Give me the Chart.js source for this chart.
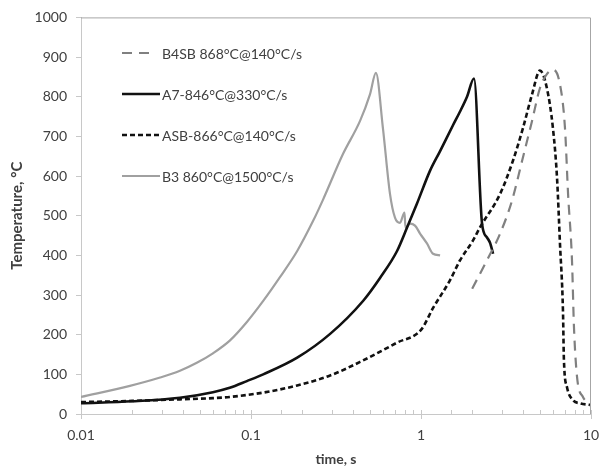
<!DOCTYPE html>
<html>
<head>
<meta charset="utf-8">
<script src="https://cdn.jsdelivr.net/npm/chart.js@4.4.1/dist/chart.umd.min.js"></script>
<style>
  html, body { margin: 0; padding: 0; background: #fff; }
  #wrap { width: 600px; height: 471px; }
</style>
</head>
<body>
<div id="wrap"><canvas id="tempChart" width="600" height="471"></canvas></div>
<script>
// values (time in s, temperature in °C)
const seriesNames = ['B4SB 868°C@140°C/s', 'A7-846°C@330°C/s', 'ASB-866°C@140°C/s', 'B3 860°C@1500°C/s'];

const b4sbTime = [2.0, 2.44, 2.92, 3.43, 3.93, 4.5, 5.01, 5.5, 5.97, 6.57, 7.03, 7.33, 7.73, 7.94, 8.28, 8.97, 9.86];
const b4sbTemp = [316, 387, 455, 538, 638, 739, 822, 857, 868, 831, 721, 555, 387, 219, 93, 43, 27];

const a7Time = [0.01, 0.02, 0.0382, 0.0597, 0.075, 0.0946, 0.118, 0.187, 0.292, 0.456, 0.574, 0.723, 0.828, 0.946, 1.129, 1.295, 1.542, 1.694, 1.865, 2.05, 2.286, 2.445, 2.547, 2.655];
const a7Temp = [27, 32, 41, 55, 66, 83, 100, 142, 202, 285, 343, 411, 470, 530, 613, 663, 728, 762, 800, 846, 480, 445, 432, 404];

const asbTime = [0.01, 0.02, 0.0382, 0.0597, 0.075, 0.118, 0.187, 0.292, 0.456, 0.723, 1.0, 1.18, 1.48, 1.694, 2.02, 2.22, 2.92, 3.47, 3.98, 4.5, 5.01, 5.5, 5.97, 6.31, 6.57, 6.84, 6.93, 7.22, 7.83, 8.61, 9.86];
const asbTemp = [30, 33, 37, 40, 43, 54, 72, 97, 135, 180, 212, 268, 337, 387, 437, 470, 555, 638, 721, 806, 866, 822, 721, 596, 429, 261, 136, 68, 35, 27, 23];

const b3Time = [0.01, 0.0194, 0.0292, 0.0382, 0.048, 0.0597, 0.075, 0.0946, 0.118, 0.148, 0.187, 0.232, 0.265, 0.348, 0.438, 0.501, 0.543, 0.597, 0.657, 0.703, 0.752, 0.800, 0.810, 0.861, 0.922, 0.987, 1.084, 1.177, 1.295];
const b3Temp = [43, 71, 92, 109, 129, 153, 185, 232, 285, 345, 411, 487, 540, 656, 739, 806, 860, 721, 555, 495, 482, 508, 470, 480, 475, 455, 430, 404, 400];

const xTickLabels = ['0.01', '0.1', '1', '10'];
const yTicks = [0, 100, 200, 300, 400, 500, 600, 700, 800, 900, 1000];

const toPoints = (xs, ys) => xs.map((x, i) => ({ x: x, y: ys[i] }));

const FONT = 'Lato, "Liberation Sans", sans-serif';
const TEXT = '#404040';

// plot frame, minor log ticks and the legend inside the plot
const extras = {
    id: 'extras',
    afterDraw(chart) {
        const { ctx, chartArea: a, scales } = chart;
        ctx.save();
        ctx.strokeStyle = '#a6a6a6';
        ctx.lineWidth = 1;
        ctx.beginPath();
        ctx.moveTo(a.left, a.top + 0.5);
        ctx.lineTo(a.right - 0.5, a.top + 0.5);
        ctx.lineTo(a.right - 0.5, a.bottom);
        ctx.stroke();

        ctx.strokeStyle = '#c8c8c8';
        ctx.beginPath();
        scales.x.ticks.forEach(t => {
            const px = Math.round(scales.x.getPixelForValue(t.value)) + 0.5;
            ctx.moveTo(px, a.bottom);
            ctx.lineTo(px, a.bottom - 4);
        });
        ctx.stroke();

        // legend
        const rowY = [53, 94, 135, 176];
        ctx.font = '14px ' + FONT;
        ctx.textBaseline = 'middle';
        ctx.fillStyle = TEXT;
        chart.data.datasets.forEach((ds, i) => {
            const y = rowY[i];
            const longDash = ds.borderDash && ds.borderDash[0] > 8;
            ctx.strokeStyle = ds.borderColor;
            ctx.lineWidth = ds.borderWidth;
            ctx.setLineDash(ds.borderDash || []);
            ctx.beginPath();
            ctx.moveTo(122, y);
            ctx.lineTo(longDash ? 149 : 160, y);
            ctx.stroke();
            ctx.setLineDash([]);
            ctx.fillText(ds.label, 162, y + 1);
        });
        ctx.restore();
    }
};

const ctx = document.getElementById('tempChart').getContext('2d');

new Chart(ctx, {
    type: 'line',
    data: {
        datasets: [{
            label: seriesNames[0],
            data: toPoints(b4sbTime, b4sbTemp),
            borderColor: '#808080',
            borderWidth: 2.2,
            borderDash: [10, 7]
        }, {
            label: seriesNames[1],
            data: toPoints(a7Time, a7Temp),
            borderColor: '#111111',
            borderWidth: 2.6
        }, {
            label: seriesNames[2],
            data: toPoints(asbTime, asbTemp),
            borderColor: '#111111',
            borderWidth: 2.6,
            borderDash: [5, 3]
        }, {
            label: seriesNames[3],
            data: toPoints(b3Time, b3Temp),
            borderColor: '#a0a0a0',
            borderWidth: 2.2
        }]
    },
    options: {
        responsive: false,
        animation: false,
        datasets: {
            line: {
                pointRadius: 0,
                fill: false,
                cubicInterpolationMode: 'monotone'
            }
        },
        layout: {
            padding: { top: 16, right: 9, left: 0, bottom: 0 }
        },
        scales: {
            x: {
                type: 'logarithmic',
                min: 0.01,
                max: 10,
                afterFit: s => { s.height = 57; s.paddingLeft = 0; s.paddingRight = 0; },
                border: { color: '#c8c8c8', width: 1 },
                grid: {
                    drawOnChartArea: false,
                    tickLength: 5,
                    tickColor: c => {
                        const v = c.tick ? c.tick.value : 0;
                        const l = Math.log10(v);
                        return Math.abs(l - Math.round(l)) < 1e-6 ? '#c8c8c8' : 'rgba(0,0,0,0)';
                    }
                },
                ticks: {
                    autoSkip: false,
                    maxRotation: 0,
                    padding: 8,
                    color: TEXT,
                    font: { family: FONT, size: 14 },
                    callback: v => {
                        const hit = xTickLabels.find(l => Math.abs(Math.log10(v) - Math.log10(parseFloat(l))) < 1e-6);
                        return hit || '';
                    }
                },
                title: {
                    display: true,
                    text: 'time, s',
                    color: TEXT,
                    font: { family: FONT, size: 14, weight: 'bold' },
                    padding: { top: 0, bottom: 3 }
                }
            },
            y: {
                min: yTicks[0],
                max: yTicks[yTicks.length - 1],
                afterFit: s => { s.width = 81; },
                afterBuildTicks: s => { s.ticks = yTicks.map(v => ({ value: v })); },
                border: { color: '#c8c8c8', width: 1 },
                grid: {
                    drawOnChartArea: false,
                    tickLength: 5,
                    tickColor: '#c8c8c8'
                },
                ticks: {
                    padding: 9,
                    color: TEXT,
                    font: { family: FONT, size: 14 },
                    callback: v => String(v)
                },
                title: {
                    display: true,
                    text: 'Temperature, °C',
                    color: TEXT,
                    font: { family: FONT, size: 15, weight: 'bold' },
                    padding: { top: 8, bottom: 0 }
                }
            }
        },
        plugins: {
            legend: { display: false },
            tooltip: { enabled: false }
        }
    },
    plugins: [extras]
});
</script>
</body>
</html>
